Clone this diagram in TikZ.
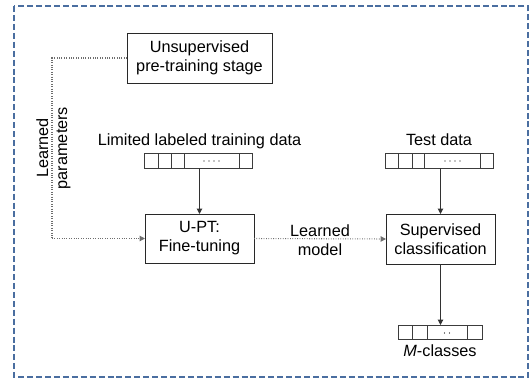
\documentclass[tikz,border=0pt]{standalone}
\usepackage{fontspec}
\setmainfont{Liberation Sans}
\usetikzlibrary{arrows.meta}
\definecolor{frameblue}{RGB}{74,110,160}
\definecolor{boxline}{RGB}{40,40,40}
\definecolor{conn}{RGB}{50,50,50}
\definecolor{dotconn}{RGB}{110,110,110}
\definecolor{cellline}{RGB}{60,60,60}
\begin{document}
\begin{tikzpicture}[x=0.75pt,y=-0.75pt,
  every node/.style={font=\fontsize{12.2}{14.3}\selectfont, inner sep=0pt, outer sep=0pt},
  stagebox/.style={draw=boxline, line width=0.75pt, align=center, fill=white},
  arraybox/.style={draw=cellline, line width=0.75pt, minimum height=11.25pt},
  cellsep/.style={draw=cellline, line width=0.75pt},
  solidarrow/.style={draw=conn, line width=0.75pt, -{Triangle[length=4pt,width=4pt]}},
  dottedarrow/.style={draw=dotconn, line width=0.8pt, dash pattern=on 0.6pt off 1.2pt, -{Triangle[length=4pt,width=4pt]}},
  dottedline/.style={draw=dotconn, line width=0.8pt, dash pattern=on 0.6pt off 1.2pt},
  lbl/.style={align=center},
  celldot/.style={fill=black, circle, minimum size=0.9pt, inner sep=0pt}
]
\useasboundingbox (0,0) rectangle (530,379);
% outer dashed frame
\draw[frameblue, line width=0.8pt, dash pattern=on 4.5pt off 2.2pt] (14,6) rectangle (528,377);

% stage boxes
\node[stagebox, minimum width=108.75pt, minimum height=37.5pt] (unsup) at (199.5,58) {Unsupervised\\pre-training stage};
\node[stagebox, minimum width=81.75pt, minimum height=36.75pt] (upt) at (199.5,238.5) {U-PT:\\Fine-tuning};
\node[stagebox, minimum width=81.75pt, minimum height=37.5pt] (sup) at (440.5,239) {Supervised\\classification};

% arrays
\node[arraybox, minimum width=81pt] (arrA) at (198,160.5) {};
\node[arraybox, minimum width=81pt] (arrB) at (439,160.5) {};
\node[arraybox, minimum width=63pt, minimum height=10.5pt] (arrC) at (440,332) {};

\foreach \d in {14,27,40,95} \draw[cellsep] (arrA.north west) ++(\d,0) -- ++(0,15);
\foreach \d in {13,27,39,95} \draw[cellsep] (arrB.north west) ++(\d,0) -- ++(0,15);
\foreach \d in {14,29,69} \draw[cellsep] (arrC.north west) ++(\d,0) -- ++(0,14);

\foreach \i in {0,1,2,3} {
  \node[celldot] (da\i) at (204+5*\i,161) {};
  \node[celldot] (db\i) at (445+5*\i,161) {};
}
\node[celldot] (dc0) at (444.5,333) {};
\node[celldot] (dc1) at (449.5,333) {};

% labels
\node[anchor=base] (limited) at (199.5,145) {Limited labeled training data};
\node[anchor=base] (test) at (439,145) {Test data};
\node[anchor=base] (mcl) at (440,356) {\textit{M}-classes};
\node[lbl, rotate=90] (lp) at (53.5,148) {Learned\\parameters};
\node[lbl] (lm) at (320,240) {Learned\\model};

% connectors
\coordinate (c1) at (52,58);
\coordinate (c2) at (52,238.5);
\draw[dottedline] (unsup.west) -- (c1) -- (c2);
\draw[dottedarrow] (c2) -- (upt.west);
\draw[dottedarrow] (upt.east) -- (sup.west);
\draw[solidarrow] (arrA.south -| upt.north) -- (upt.north);
\draw[solidarrow] (arrB.south -| sup.north) -- (sup.north);
\draw[solidarrow] (sup.south) -- (arrC.north -| sup.south);
\end{tikzpicture}
\end{document}
